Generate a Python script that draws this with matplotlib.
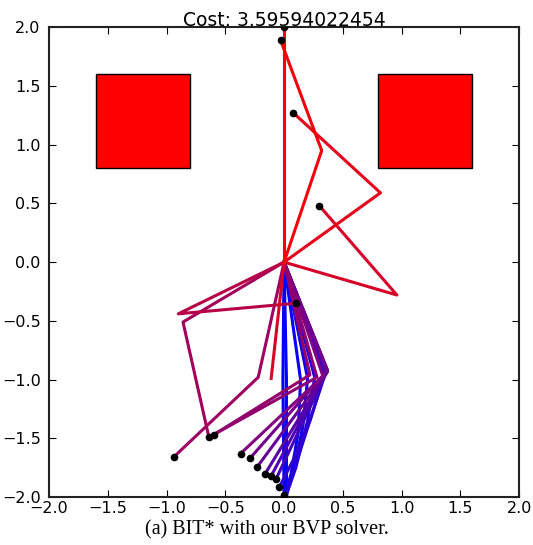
import matplotlib.pyplot as plt
from matplotlib.patches import Rectangle

# obstacles: (x0, y0, width, height)
obstacles = [(-1.6, 0.8, 0.8, 0.8), (0.8, 0.8, 0.8, 0.8)]

# tree paths, each one a list of x and y waypoints, plus a colour fraction (0 red -> 1 blue)
path_x = [
    [0.0, 0.0],
    [0.0, 0.32, -0.03],
    [0.0, 0.82, 0.08],
    [0.0, 0.96, 0.30],
    [0.0, -0.11],
    [0.0, -0.90, 0.10],
    [0.0, -0.86, -0.64],
    [0.0, -0.22, -0.94],
    [0.0, 0.22, -0.60],
    [0.0, 0.28, -0.62],
    [0.0, 0.33, -0.37],
    [0.0, 0.37, -0.29],
    [0.0, 0.37, -0.23],
    [0.0, 0.37, -0.16],
    [0.0, 0.36, -0.11],
    [0.0, 0.36, -0.07],
    [0.0, 0.35, 0.22, 0.08, -0.04],
    [0.0, 0.34, 0.22, 0.10, 0.0],
    [0.0, 0.26, 0.20, 0.10, 0.02],
    [0.0, 0.20, 0.16, 0.08, 0.02],
    [0.0, 0.14, 0.12, 0.06, 0.01],
    [0.0, 0.02, 0.02],
    [0.0, -0.01, 0.0],
]
path_y = [
    [0.0, 2.0],
    [0.0, 0.95, 1.89],
    [0.0, 0.59, 1.27],
    [0.0, -0.28, 0.48],
    [0.0, -0.99],
    [0.0, -0.44, -0.35],
    [0.0, -0.51, -1.49],
    [0.0, -0.98, -1.66],
    [0.0, -0.96, -1.47],
    [0.0, -0.98, -1.48],
    [0.0, -0.97, -1.63],
    [0.0, -0.92, -1.67],
    [0.0, -0.93, -1.745],
    [0.0, -0.93, -1.80],
    [0.0, -0.94, -1.82],
    [0.0, -0.94, -1.85],
    [0.0, -0.95, -1.35, -1.68, -1.915],
    [0.0, -0.96, -1.35, -1.72, -1.98],
    [0.0, -0.98, -1.35, -1.75, -1.98],
    [0.0, -0.99, -1.40, -1.78, -1.98],
    [0.0, -1.0, -1.45, -1.80, -1.99],
    [0.0, -1.0, -1.98],
    [0.0, -1.0, -2.0],
]
path_t = [0.0, 0.04, 0.1, 0.16, 0.14, 0.28, 0.36, 0.38, 0.42, 0.44,
          0.5, 0.55, 0.6, 0.65, 0.7, 0.74, 0.8, 0.85, 0.88, 0.93, 0.97, 1.0, 1.0]
has_dot = [1, 1, 1, 1, 0, 1, 1, 1, 1, 0,
           1, 1, 1, 1, 1, 1, 1, 1, 0, 0, 0, 0, 1]

cost = '3.59594022454'

fig = plt.figure(figsize=(5.33, 5.45), dpi=100)
ax = fig.add_axes([0.092, 0.088, 0.882, 0.862])

for (x0, y0, w, h) in obstacles:
    ax.add_patch(Rectangle((x0, y0), w, h, facecolor='red', edgecolor='black', lw=1, zorder=1))

order = sorted(range(len(path_x)), key=lambda i: -path_t[i])  # blue first, red last
for i in order:
    t = path_t[i]
    ax.plot(path_x[i], path_y[i], '-', color=(1 - t, 0, t), lw=2.2, zorder=2)
for i in range(len(path_x)):
    if has_dot[i]:
        ax.plot(path_x[i][-1], path_y[i][-1], 'o', color='black', ms=4.5, zorder=3)

ax.set_xlim(-2, 2)
ax.set_ylim(-2, 2)
ax.set_xticks([-2.0, -1.5, -1.0, -0.5, 0.0, 0.5, 1.0, 1.5, 2.0])
ax.set_yticks([-2.0, -1.5, -1.0, -0.5, 0.0, 0.5, 1.0, 1.5, 2.0])
ax.tick_params(direction='in', top=True, right=True, length=5, labelsize=11.5)
ax.tick_params(axis='x', pad=3)
ax.tick_params(axis='y', pad=6)
for s in ax.spines.values():
    s.set_linewidth(1.5)
    s.set_color('#222222')
ax.set_title('Cost: ' + cost, fontsize=13.5, pad=1)

fig.text(0.50, 0.027, '(a) BIT* with our BVP solver.', ha='center', va='center',
         family='Liberation Serif', fontsize=14.5)

fig.savefig('out.png', dpi=100)
